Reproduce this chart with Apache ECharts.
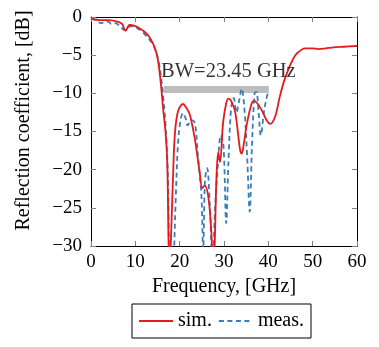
<!DOCTYPE html>
<html>
<head>
<meta charset="utf-8">
<script src="https://cdn.jsdelivr.net/npm/echarts@6/dist/echarts.min.js"></script>
<style>html,body{margin:0;padding:0;background:#fff;}#c{width:379px;height:347px;}</style>
</head>
<body>
<div id="c"></div>
<script>
// Simulated reflection coefficient [GHz, dB]
var simFreq = [0,2,4,6,7,7.8,8.7,10,11,12,13,14,14.7,15.2,15.8,16.3,16.8,17.2,17.7,18.1,18.5,18.9,19.6,20.75,21.5,22.3,23.4,24.5,25.1,25.6,26.4,27.1,27.6,27.9,28.3,28.7,29.1,29.8,30.5,31,31.5,32.5,33.6,34,34.5,35.1,36.2,36.8,38.5,39.5,40.4,41.5,42.6,43.5,44.5,45.5,46.4,48.3,50,51.3,53,54.3,57,60];
var simDb = [-0.2,-0.4,-0.4,-0.6,-0.9,-1.8,-1.05,-1.2,-1.5,-1.9,-2.5,-3.5,-4.6,-6,-9,-12.2,-15,-19,-34,-28,-21,-15.5,-12.4,-11.4,-11.9,-12.8,-15.9,-20.3,-22.4,-22.1,-23.3,-27.7,-34,-30,-21,-17.7,-19,-13.8,-11.3,-10.7,-10.9,-12.4,-17.3,-17.9,-16.5,-14.2,-11.4,-11,-12.2,-13.4,-14,-13.1,-10.4,-8.5,-6.9,-5.6,-4.8,-4.1,-4.1,-4.2,-4.1,-4.0,-3.9,-3.8];
// Measured reflection coefficient [GHz, dB]
var measFreq = [0,1,2.3,3.8,4.6,5.5,6.5,7.5,8.5,9.5,10.5,11.5,12.5,13.5,14.3,15,15.6,16.2,16.8,17.3,17.9,18.5,19.1,19.6,20.2,20.75,21.3,21.8,22.6,23.4,24.1,24.9,25.3,25.7,26.2,26.8,27.4,28,28.6,29.3,29.9,30.5,31,31.6,32.2,32.8,33.4,34,34.6,35.2,35.8,36.3,36.9,37.3,37.8,38.3,39,39.6,40];
var measDb = [-0.2,-0.4,-0.8,-0.6,-0.9,-0.8,-1.2,-1.7,-1.3,-1.2,-1.5,-1.9,-2.5,-3.2,-4.0,-5.2,-7,-10,-14,-20,-34,-33,-24,-16.8,-13.5,-12.6,-13.2,-14.2,-13.5,-13.8,-18.1,-23.3,-31,-21.5,-19.8,-24.6,-32,-25,-19.5,-15.5,-17,-27,-19,-12,-10.6,-12.5,-11,-9.4,-12,-18,-25.5,-17,-10,-9.8,-12.5,-15.5,-12.5,-10.6,-9.8];
// Bandwidth marker
var bwFreq = [16.4, 40.1];
var bwDb = [-9.5, -9.5];
var bwLabel = 'BW=23.45 GHz';
var bwLabelPos = [15.8, -7.1];
var xTicks = [0,10,20,30,40,50,60];
var yTicks = [0,-5,-10,-15,-20,-25,-30];

function pairs(xs, ys){ return xs.map(function(x,i){ return [x, ys[i]]; }); }

var FONT = '"Liberation Serif", "Times New Roman", serif';
var chart = echarts.init(document.getElementById('c'), null, {renderer:'canvas'});
var axisCommon = {
  axisLine:{show:true, onZero:false, lineStyle:{color:'#000', width:1}},
  axisTick:{show:true, inside:true, length:5, lineStyle:{color:'#808080', width:1}},
  splitLine:{show:false}
};
chart.setOption({
  animation:false,
  backgroundColor:'#fff',
  grid:{left:91, top:17, right:22, bottom:101, containLabel:false},
  xAxis:[
    Object.assign({type:'value', min:xTicks[0], max:xTicks[xTicks.length-1], interval:10, position:'bottom',
      name:'Frequency, [GHz]', nameLocation:'middle', nameGap:30,
      nameTextStyle:{fontFamily:FONT, fontSize:20, color:'#000'},
      axisLabel:{fontFamily:FONT, fontSize:19, color:'#000', margin:7}}, axisCommon),
    Object.assign({type:'value', min:xTicks[0], max:xTicks[xTicks.length-1], interval:10, position:'top',
      axisLabel:{show:false}}, axisCommon)
  ],
  yAxis:[
    Object.assign({type:'value', min:-30, max:0, interval:5, position:'left',
      name:'Reflection coefficient, [dB]', nameLocation:'middle', nameGap:57,
      nameTextStyle:{fontFamily:FONT, fontSize:20, color:'#000', padding:[0,0,0,22]},
      axisLabel:{fontFamily:FONT, fontSize:19, color:'#000', margin:9,
        formatter:function(v){ return v<0 ? '\u2212'+Math.abs(v) : String(v); }}}, axisCommon),
    Object.assign({type:'value', min:-30, max:0, interval:5, position:'right',
      axisLabel:{show:false}}, axisCommon)
  ],
  legend:{
    data:['sim.','meas.'],
    left:132, top:304, orient:'horizontal',
    borderColor:'#000', borderWidth:1, borderRadius:0,
    padding:[7,7,7,6], itemGap:6, itemWidth:34, itemHeight:14,
    itemStyle:{opacity:0},
    textStyle:{fontFamily:FONT, fontSize:20, color:'#000'}
  },
  series:[
    {type:'line', name:'bw', data:pairs(bwFreq,bwDb), symbol:'none', silent:true,
      lineStyle:{color:'#bdbdbd', width:7, cap:'butt'}, z:1},
    {type:'scatter', name:'bwtext', data:[bwLabelPos], symbolSize:0, silent:true,
      label:{show:true, position:'right', distance:0, formatter:bwLabel,
        fontFamily:FONT, fontSize:20.5, color:'#000'}, z:5},
    {type:'line', name:'meas.', data:pairs(measFreq,measDb), symbol:'none', smooth:0.35, clip:true,
      lineStyle:{color:'#377eb8', width:1.8, type:[5,3.5]}, itemStyle:{color:'#377eb8'}, z:3},
    {type:'line', name:'sim.', data:pairs(simFreq,simDb), symbol:'none', smooth:0.35, clip:true,
      lineStyle:{color:'#e41a1c', width:1.8}, itemStyle:{color:'#e41a1c'}, z:4}
  ]
});
</script>
</body>
</html>
